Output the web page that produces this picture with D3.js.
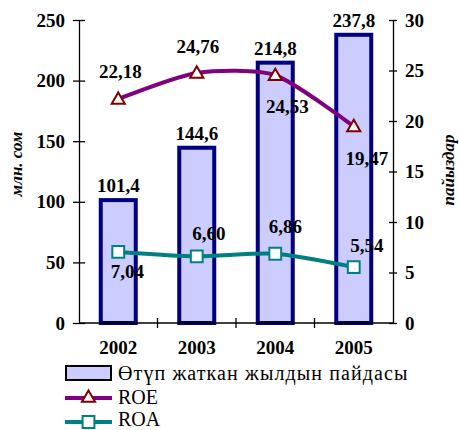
<!DOCTYPE html>
<html>
<head>
<meta charset="utf-8">
<script src="https://cdn.jsdelivr.net/npm/d3@7"></script>
<style>
  body { margin: 0; background: #fff; }
  svg { display: block; }
  svg text { font-family: "Liberation Serif", "Times New Roman", serif; }
</style>
</head>
<body>
<div id="chart"></div>
<script>
// data
var years = ["2002", "2003", "2004", "2005"];
var profit = [101.4, 144.6, 214.8, 237.8];
var roe = [22.18, 24.76, 24.53, 19.47];
var roa = [7.04, 6.60, 6.86, 5.54];
var leftTicks = [0, 50, 100, 150, 200, 250];
var rightTicks = [0, 5, 10, 15, 20, 25, 30];
var legendLabels = ["Өтүп жаткан жылдын пайдасы", "ROE", "ROA"];

// label placement offsets [dx, dy] from the point
var roeLabelPos = [[2, -21], [1, -20], [12, 38], [13, 39]];
var roaLabelPos = [[9, 26], [12, -16], [10, -21], [13, -15]];

var width = 459, height = 430;
var plot = { left: 79, right: 393, top: 20, bottom: 323 };

var locale = d3.formatLocale({ decimal: ",", thousands: " ", grouping: [3], currency: ["", ""] });
var f1 = locale.format(".1f"), f2 = locale.format(".2f");

var svg = d3.select("#chart").append("svg")
    .attr("width", width)
    .attr("height", height);

// scales
var x = d3.scaleBand().domain(years).range([plot.left, plot.right]).padding(0);
var yL = d3.scaleLinear().domain([0, 250]).range([plot.bottom, plot.top]);
var yR = d3.scaleLinear().domain([0, 30]).range([plot.bottom, plot.top]);

var barW = 35;

// bars
svg.append("g").selectAll("rect")
    .data(profit)
    .enter().append("rect")
    .attr("x", function(d, i) { return x(years[i]) + x.bandwidth() / 2 - barW / 2; })
    .attr("y", function(d) { return yL(d); })
    .attr("width", barW)
    .attr("height", function(d) { return yL(0) - yL(d); })
    .attr("fill", "#ccccff")
    .attr("stroke", "#000080")
    .attr("stroke-width", 4);

// axes
var leftAxis = d3.axisLeft(yL).tickValues(leftTicks).tickSizeInner(6).tickSizeOuter(0).tickPadding(8);
var rightAxis = d3.axisRight(yR).tickValues(rightTicks).tickSizeInner(4).tickSizeOuter(0).tickPadding(8);

var gl = svg.append("g").attr("transform", "translate(" + plot.left + ",0)").call(leftAxis);
var gr = svg.append("g").attr("transform", "translate(" + plot.right + ",0)").call(rightAxis);
[gl, gr].forEach(function(g) {
  g.attr("font-family", null).attr("font-size", null);
  g.select(".domain").attr("stroke", "#000").attr("stroke-width", 1.3);
  g.selectAll(".tick text").attr("font-size", 19).attr("font-weight", "bold").attr("fill", "#000");
  g.selectAll(".tick line").attr("stroke", "#000").attr("stroke-width", 1.3);
});
// cross ticks
gl.selectAll(".tick line").attr("x1", 6).attr("x2", -6);
gr.selectAll(".tick line").attr("x1", -4).attr("x2", 4);

// x axis
svg.append("line")
    .attr("x1", plot.left).attr("x2", plot.right)
    .attr("y1", plot.bottom).attr("y2", plot.bottom)
    .attr("stroke", "#000").attr("stroke-width", 1.5);
var xBounds = years.slice(1).map(function(d) { return x(d); });
svg.append("g").selectAll("line")
    .data(xBounds)
    .enter().append("line")
    .attr("x1", function(d) { return d; }).attr("x2", function(d) { return d; })
    .attr("y1", plot.bottom - 5).attr("y2", plot.bottom + 5)
    .attr("stroke", "#000").attr("stroke-width", 1.3);
svg.append("g").selectAll("text")
    .data(years)
    .enter().append("text")
    .attr("x", function(d) { return x(d) + x.bandwidth() / 2; })
    .attr("y", 354)
    .attr("text-anchor", "middle")
    .attr("font-size", 19).attr("font-weight", "bold")
    .text(function(d) { return d; });

// axis titles
svg.append("text")
    .attr("transform", "translate(22,164) rotate(-90)")
    .attr("text-anchor", "middle")
    .attr("font-size", 17).attr("font-weight", "bold").attr("font-style", "italic")
    .text("млн. сом");
svg.append("text")
    .attr("transform", "translate(454,170) rotate(-90)")
    .attr("text-anchor", "middle")
    .attr("font-size", 17).attr("font-weight", "bold").attr("font-style", "italic")
    .text("пайыздар");

// bar labels
svg.append("g").selectAll("text")
    .data(profit)
    .enter().append("text")
    .attr("x", function(d, i) { return x(years[i]) + x.bandwidth() / 2; })
    .attr("y", function(d) { return yL(d) - 8; })
    .attr("text-anchor", "middle")
    .attr("font-size", 19).attr("font-weight", "bold")
    .text(function(d) { return f1(d); });

// lines
var cx = function(d, i) { return x(years[i]) + x.bandwidth() / 2; };
var line = d3.line().x(cx).y(function(d) { return yR(d); }).curve(d3.curveCardinal.tension(0.3));

svg.append("path").datum(roe)
    .attr("d", line).attr("fill", "none")
    .attr("stroke", "#800080").attr("stroke-width", 4);
svg.append("path").datum(roa)
    .attr("d", line).attr("fill", "none")
    .attr("stroke", "#008080").attr("stroke-width", 4);

var tri = d3.symbol().type(d3.symbolTriangle).size(75);
var sq = d3.symbol().type(d3.symbolSquare).size(140);

svg.append("g").selectAll("path")
    .data(roe)
    .enter().append("path")
    .attr("d", tri)
    .attr("transform", function(d, i) { return "translate(" + cx(d, i) + "," + (yR(d) + 1) + ")"; })
    .attr("fill", "#fff").attr("stroke", "#800000").attr("stroke-width", 2);
svg.append("g").selectAll("path")
    .data(roa)
    .enter().append("path")
    .attr("d", sq)
    .attr("transform", function(d, i) { return "translate(" + cx(d, i) + "," + yR(d) + ")"; })
    .attr("fill", "#fff").attr("stroke", "#008080").attr("stroke-width", 2);

// point labels
function pointLabels(data, pos) {
  svg.append("g").selectAll("text")
      .data(data)
      .enter().append("text")
      .attr("x", function(d, i) { return cx(d, i) + pos[i][0]; })
      .attr("y", function(d, i) { return yR(d) + pos[i][1]; })
      .attr("text-anchor", "middle")
      .attr("font-size", 19).attr("font-weight", "bold")
      .text(function(d) { return f2(d); });
}
pointLabels(roe, roeLabelPos);
pointLabels(roa, roaLabelPos);

// legend
var lg = svg.append("g");
lg.append("rect").attr("x", 66).attr("y", 366).attr("width", 45).attr("height", 14)
    .attr("fill", "#ccccff").attr("stroke", "#000").attr("stroke-width", 2);
lg.append("line").attr("x1", 65).attr("x2", 112).attr("y1", 398).attr("y2", 398)
    .attr("stroke", "#800080").attr("stroke-width", 4);
lg.append("path").attr("d", tri).attr("transform", "translate(88.5,398)")
    .attr("fill", "#fff").attr("stroke", "#800000").attr("stroke-width", 2);
lg.append("line").attr("x1", 65).attr("x2", 112).attr("y1", 422).attr("y2", 422)
    .attr("stroke", "#008080").attr("stroke-width", 4);
lg.append("path").attr("d", sq).attr("transform", "translate(88.5,422)")
    .attr("fill", "#fff").attr("stroke", "#008080").attr("stroke-width", 2);
lg.selectAll("text.leg")
    .data(legendLabels)
    .enter().append("text")
    .attr("class", "leg")
    .attr("x", 118)
    .attr("y", function(d, i) { return [380, 404, 426][i]; })
    .attr("font-size", 20)
    .attr("letter-spacing", function(d, i) { return i === 0 ? 1.1 : 0; })
    .text(function(d) { return d; });
</script>
</body>
</html>
